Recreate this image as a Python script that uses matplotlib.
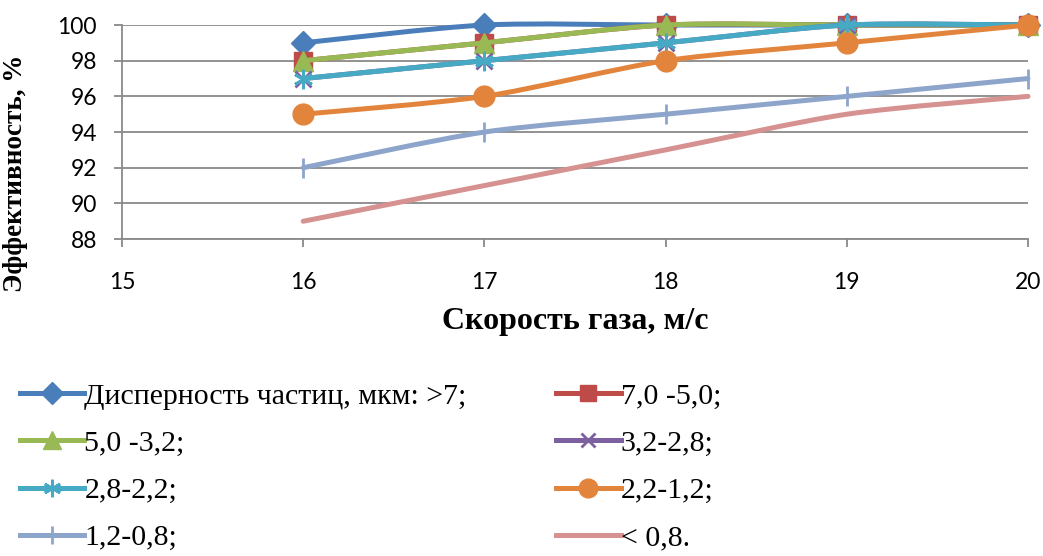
import matplotlib
matplotlib.use("Agg")
import matplotlib.pyplot as plt
from matplotlib.path import Path
from matplotlib.patches import PathPatch
from matplotlib.lines import Line2D

# gas velocity, m/s
speed = [16, 17, 18, 19, 20]

labels = [
    "Дисперность частиц, мкм: >7;",
    "7,0 -5,0;",
    "5,0 -3,2;",
    "3,2-2,8;",
    "2,8-2,2;",
    "2,2-1,2;",
    "1,2-0,8;",
    "< 0,8.",
]
eff_gt7 = [99, 100, 100, 100, 100]
eff_7_5 = [98, 99, 100, 100, 100]
eff_5_32 = [98, 99, 100, 100, 100]
eff_32_28 = [97, 98, 99, 100, 100]
eff_28_22 = [97, 98, 99, 100, 100]
eff_22_12 = [95, 96, 98, 99, 100]
eff_12_08 = [92, 94, 95, 96, 97]
eff_lt08 = [89, 91, 93, 95, 96]
series = [eff_gt7, eff_7_5, eff_5_32, eff_32_28, eff_28_22, eff_22_12, eff_12_08, eff_lt08]

colors = ["#4A7EBB", "#BE4B48", "#98B954", "#7D60A0", "#46AAC5", "#E3843C", "#8EA5CB", "#D59290"]
markers = ["D", "s", "^", "x", (6, 2, 0), "o", "|", None]
msizes = [12, 13, 14, 11, 14, 15, 14, 0]


def smooth_path(xs, ys, k=7.5):
    # excel-style smoothed line: cubic bezier segments through the points
    pts = list(zip(xs, ys))
    n = len(pts)
    verts = [pts[0]]
    codes = [Path.MOVETO]
    for i in range(n - 1):
        p0 = pts[max(i - 1, 0)]
        p1 = pts[i]
        p2 = pts[i + 1]
        p3 = pts[min(i + 2, n - 1)]
        c1 = (p1[0] + (p2[0] - p0[0]) / k, p1[1] + (p2[1] - p0[1]) / k)
        c2 = (p2[0] - (p3[0] - p1[0]) / k, p2[1] - (p3[1] - p1[1]) / k)
        verts += [c1, c2, p2]
        codes += [Path.CURVE4] * 3
    return Path(verts, codes)


def mew_for(m):
    return 2 if m in ("x", "|") or isinstance(m, tuple) else 1


fig = plt.figure(figsize=(10.43, 5.56), dpi=100)
ax = fig.add_axes([0.117, 0.570, 0.8686, 0.385])

handles = []
for i, ys in enumerate(series):
    patch = PathPatch(smooth_path(speed, ys), fill=False, edgecolor=colors[i],
                      lw=3.6, capstyle="round", joinstyle="round", clip_on=False, zorder=3 + i)
    ax.add_patch(patch)
    if markers[i] is not None:
        ax.plot(speed, ys, linestyle="none", marker=markers[i], ms=msizes[i],
                color=colors[i], mec=colors[i], mew=mew_for(markers[i]),
                clip_on=False, zorder=3 + i)
    handles.append(Line2D([], [], color=colors[i], lw=3.6, marker=markers[i],
                          ms=msizes[i] * 0.9, mec=colors[i], mew=mew_for(markers[i])))

ax.set_xlim(15, 20)
ax.set_ylim(88, 100)
ax.set_xticks([15, 16, 17, 18, 19, 20])
ax.set_yticks(range(88, 101, 2))

grid_c = "#898989"
ax.yaxis.grid(True, color=grid_c, lw=1.3)
ax.set_axisbelow(True)
for s in ["top", "right"]:
    ax.spines[s].set_visible(False)
for s in ["left", "bottom"]:
    ax.spines[s].set_color(grid_c)
    ax.spines[s].set_linewidth(1.3)
ax.tick_params(axis="both", colors=grid_c, width=1.3, length=6, labelcolor="black",
               labelsize=16.5)
ax.tick_params(axis="x", pad=18)
ax.tick_params(axis="y", pad=12)
for lab in ax.get_xticklabels() + ax.get_yticklabels():
    lab.set_family("Lato")

ax.set_xlabel("Скорость газа, м/с", family="Liberation Serif", weight="bold",
              fontsize=23)
ax.xaxis.set_label_coords(0.5, -0.315)
ax.set_ylabel("Эффективность, %", family="Liberation Serif", weight="bold",
              fontsize=19.5)
ax.yaxis.set_label_coords(-0.104, 0.308)

order = [0, 2, 4, 6, 1, 3, 5, 7]
fig.legend(handles=[handles[j] for j in order], labels=[labels[j] for j in order],
           ncol=2, loc="upper left",
           bbox_to_anchor=(0.008, 0.333), frameon=False,
           prop={"family": "Liberation Serif", "size": 21.5},
           handlelength=2.15, handletextpad=0.0, columnspacing=3.0,
           labelspacing=0.68, borderaxespad=0)

fig.savefig("out.png", dpi=100)
